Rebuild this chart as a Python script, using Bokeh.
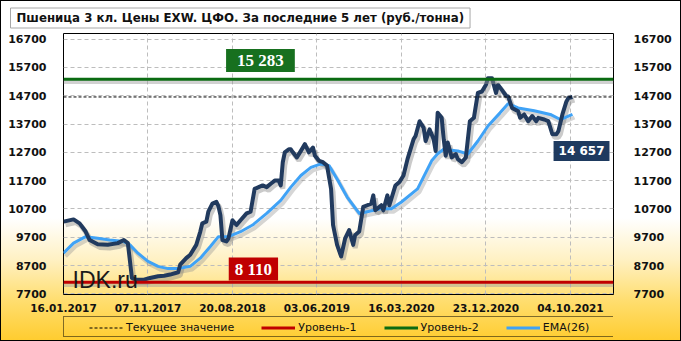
from bokeh.plotting import figure
from bokeh.layouts import column
from bokeh.models import Range1d, LinearAxis, FixedTicker, Span, Label, Legend, LegendItem, ColumnDataSource
from bokeh.transform import dodge
from bokeh.embed import file_html
from bokeh.resources import INLINE

title_text = "Пшеница 3 кл. Цены EXW. ЦФО. За последние 5 лет (руб./тонна)"
tick_weeks = [0, 42, 84, 126, 168, 210, 252]
date_labels = ["16.01.2017", "07.11.2017", "20.08.2018", "03.06.2019", "16.03.2020", "23.12.2020", "04.10.2021"]
y_ticks = [7700, 8700, 9700, 10700, 11700, 12700, 13700, 14700, 15700, 16700]

price_weeks = [0, 5, 8, 11, 13, 17, 22, 27, 30, 32, 34, 36, 40, 43, 47, 50, 53, 57, 58, 61,
               63, 66, 68, 69, 71, 72, 74, 76, 77, 78, 79, 81, 82, 84, 86, 88, 91, 93, 95, 97,
               99, 101, 103, 105, 107, 108, 109, 110, 112, 113, 114, 116, 118, 120, 122, 124, 125, 127, 129, 131,
               133, 134, 136, 138, 140, 142, 144, 145, 147, 149, 151, 153, 154, 155, 158, 159, 161, 162, 165, 167,
               169, 171, 174, 175, 177, 179, 180, 182, 184, 185, 186, 188, 189, 190, 191, 193, 195, 196, 198, 200,
               201, 202, 204, 206, 208, 210, 211, 213, 215, 216, 218, 220, 221, 223, 226, 227, 229, 231, 233, 235,
               236, 239, 241, 243, 245, 246, 248, 250, 251, 253]
price_values = [10250, 10330, 10190, 9900, 9600, 9450, 9430, 9490, 9600, 9490, 8260, 8200, 8200, 8260, 8320, 8340, 8380, 8460, 8730, 8960,
                9080, 9430, 9900, 10190, 10250, 10600, 10890, 10950, 10800, 10480, 9600, 9550, 9660, 10300, 10130, 10300, 10540, 10600, 11410, 11470,
                11530, 11470, 11590, 11700, 11700, 11530, 12350, 12700, 12810, 12810, 12700, 12520, 12750, 12990, 12700, 12870, 12580, 12400, 12350, 12230,
                11410, 10130, 9430, 9020, 9660, 9950, 9430, 9780, 9900, 10770, 10830, 10890, 11180, 10650, 10830, 10650, 11180, 10830, 11530, 11650,
                11880, 12460, 13160, 13280, 13800, 13570, 13100, 13510, 13160, 12750, 14100, 13920, 13160, 12580, 13050, 12520, 12640, 12460, 12350, 12520,
                13160, 13800, 13920, 14800, 14850, 15090, 15320, 15320, 14800, 15090, 14900, 14700, 14680, 14270, 14150, 13920, 14040, 13800, 13980, 13800,
                13920, 13860, 13800, 13340, 13340, 13450, 14040, 14500, 14620, 14657]

ema_weeks = [0, 5, 11, 17, 23, 30, 33, 37, 42, 47, 52, 57, 63, 68, 73, 77, 82, 88, 94, 101,
             108, 113, 118, 123, 128, 132, 136, 141, 147, 151, 158, 163, 168, 176, 183, 186, 189, 196, 201, 206,
             211, 217, 221, 226, 234, 242, 247, 253]
ema_values = [9135, 9490, 9720, 9660, 9600, 9545, 9430, 9135, 8845, 8670, 8590, 8590, 8670, 8960, 9370, 9720, 9720, 9895, 10130, 10540,
              11000, 11470, 11880, 12170, 12290, 12230, 11760, 11120, 10540, 10600, 10710, 10710, 10945, 11410, 12400, 12650, 12810, 12750, 12640, 13100,
              13630, 14095, 14420, 14270, 14170, 14040, 13860, 14040]

level_1 = 8110
level_2 = 15283
current_value = 14657
legend_labels = ["Текущее значение", "Уровень-1", "Уровень-2", "EMA(26)"]

navy = "#213A5E"
blue = "#3FA2F6"
red = "#C00000"
green = "#0B6B12"
FONT = "DejaVu Sans"

# ---------- main chart ----------
p = figure(width=681, height=314, output_backend="svg", toolbar_location=None,
           x_range=Range1d(0, 273.4), y_range=Range1d(7675, 16900),
           min_border_left=63, min_border_right=68, min_border_top=33, min_border_bottom=17,
           background_fill_alpha=0, border_fill_alpha=0, outline_line_color="black")

p.title.text = title_text
p.title.align = "left"
p.title.offset = -53
p.title.standoff = 11
p.title.text_font = FONT
p.title.text_font_style = "bold"
p.title.text_font_size = "11.8px"
p.title.text_color = "#111111"
p.title.background_fill_color = "white"
p.title.border_line_color = "#A8A8A8"
p.title.padding = (6, 3)

for ax in [p.xaxis[0], p.yaxis[0]]:
    ax.axis_line_color = None
    ax.major_tick_line_color = None
    ax.minor_tick_line_color = None
    ax.major_label_text_font = FONT
    ax.major_label_text_font_style = "bold"
    ax.major_label_text_color = "#111111"

p.xaxis.ticker = FixedTicker(ticks=tick_weeks)
p.xaxis.major_label_overrides = {w: d for w, d in zip(tick_weeks, date_labels)}
p.xaxis.major_label_text_font_size = "10.5px"
p.xaxis.major_label_standoff = 3
p.yaxis.ticker = FixedTicker(ticks=y_ticks)
p.yaxis.major_label_text_font_size = "11px"
p.yaxis.major_label_standoff = 11

right = LinearAxis(ticker=FixedTicker(ticks=y_ticks), axis_line_color=None, major_tick_line_color=None,
                   minor_tick_line_color=None, major_label_text_font=FONT, major_label_text_font_style="bold",
                   major_label_text_font_size="11px", major_label_standoff=14, major_label_text_color="#111111")
p.add_layout(right, "right")

p.xgrid.ticker = FixedTicker(ticks=tick_weeks)
p.ygrid.ticker = FixedTicker(ticks=y_ticks)
for g in [p.xgrid[0], p.ygrid[0]]:
    g.grid_line_color = "#BDBDBD"
    g.grid_line_dash = "4 3"
    g.grid_line_width = 1

for lvl, col in [(level_1, red), (level_2, green)]:
    p.add_layout(Span(location=lvl - 95, dimension="width", line_color="#9A9A9A", line_alpha=0.45, line_width=4))
    p.add_layout(Span(location=lvl, dimension="width", line_color=col, line_width=3))
p.add_layout(Span(location=current_value, dimension="width", line_color="black", line_width=1, line_dash="3 2"))

price_src = ColumnDataSource(dict(w=price_weeks, v=price_values))
ema_src = ColumnDataSource(dict(w=ema_weeks, v=ema_values))

p.line(x=dodge("w", 1.0), y=dodge("v", -110), source=ema_src, line_color="#8A8A8A", line_alpha=0.35, line_width=4)
p.line(x=dodge("w", 1.0), y=dodge("v", -110), source=price_src, line_color="#7A7A7A", line_alpha=0.4, line_width=5)
p.line(x="w", y="v", source=ema_src, line_color=blue, line_width=3, line_join="round")
p.line(x="w", y="v", source=price_src, line_color=navy, line_width=4, line_join="round")

p.add_layout(Label(x=4.5, y=8190, text="IDK.ru", text_font="Liberation Sans", text_font_size="23px",
                   text_color="#1A1A1A", text_baseline="alphabetic"))


def value_box(x, y, txt, bg, font, size, pad):
    p.add_layout(Label(x=x, y=y, text=txt, text_alpha=0, text_font=font, text_font_style="bold",
                       text_font_size=size, text_align="center", text_baseline="middle", x_offset=3, y_offset=-3,
                       background_fill_color="#808080", background_fill_alpha=0.4, padding=pad))
    p.add_layout(Label(x=x, y=y, text=txt, text_color="white", text_font=font, text_font_style="bold",
                       text_font_size=size, text_align="center", text_baseline="middle",
                       background_fill_color=bg, padding=pad))


value_box(97.9, 15947, "15 283", "#17701F", "Liberation Serif", "17px", (11, 2))
value_box(94.4, 8575, "8 110", red, "Liberation Serif", "17px", (6, 2))
value_box(257.5, 12743, "14 657", "#1E3A5F", FONT, "12px", (5, 3))

# ---------- legend strip (frame aligned with the chart frame) ----------
lf = figure(width=681, height=27, output_backend="svg", toolbar_location=None,
            x_range=Range1d(0, 1), y_range=Range1d(0, 1), x_axis_type=None, y_axis_type=None,
            min_border_left=63, min_border_right=68, min_border_top=0, min_border_bottom=0,
            outline_line_color=None, background_fill_alpha=0, border_fill_alpha=0)
lf.xgrid.visible = False
lf.ygrid.visible = False
proxy = dict(x=[-1], y=[-1])
r_cur = lf.line(x="x", y="y", source=ColumnDataSource(proxy), line_color="black", line_width=1, line_dash="3 2")
r_l1 = lf.line(x="x", y="y", source=ColumnDataSource(proxy), line_color=red, line_width=3)
r_l2 = lf.line(x="x", y="y", source=ColumnDataSource(proxy), line_color=green, line_width=3)
r_ema_leg = lf.line(x="x", y="y", source=ColumnDataSource(proxy), line_color=blue, line_width=3)
r_none = lf.line(x="x", y="y", source=ColumnDataSource(proxy), line_alpha=0)

box = Legend(items=[LegendItem(label=" ", renderers=[r_none])], location=(0, 4), padding=3,
             glyph_width=0, label_standoff=0, label_width=543, label_height=13, glyph_height=13,
             border_line_color="black", background_fill_alpha=0, margin=0)
leg = Legend(items=[LegendItem(label=lbl, renderers=[r]) for lbl, r in
                    zip(legend_labels, [r_cur, r_l1, r_l2, r_ema_leg])],
             location=(23, 4), orientation="horizontal", padding=3, spacing=27,
             glyph_width=34, glyph_height=13, label_height=13, label_standoff=3,
             label_text_font=FONT, label_text_font_size="11px", label_text_color="#111111",
             border_line_alpha=0, background_fill_alpha=0, margin=0)
lf.add_layout(box)
lf.add_layout(leg)

layout = column(p, lf, spacing=0,
                styles={"background": "linear-gradient(to bottom, #FFFFFF 0%, #FFFFFF 64%, #FFF1C4 76%, #FFDE70 88%, #FFCC2E 100%)",
                        "box-shadow": "inset 0 0 0 1px #000"})

open("out.html", "w").write(file_html(layout, INLINE))
